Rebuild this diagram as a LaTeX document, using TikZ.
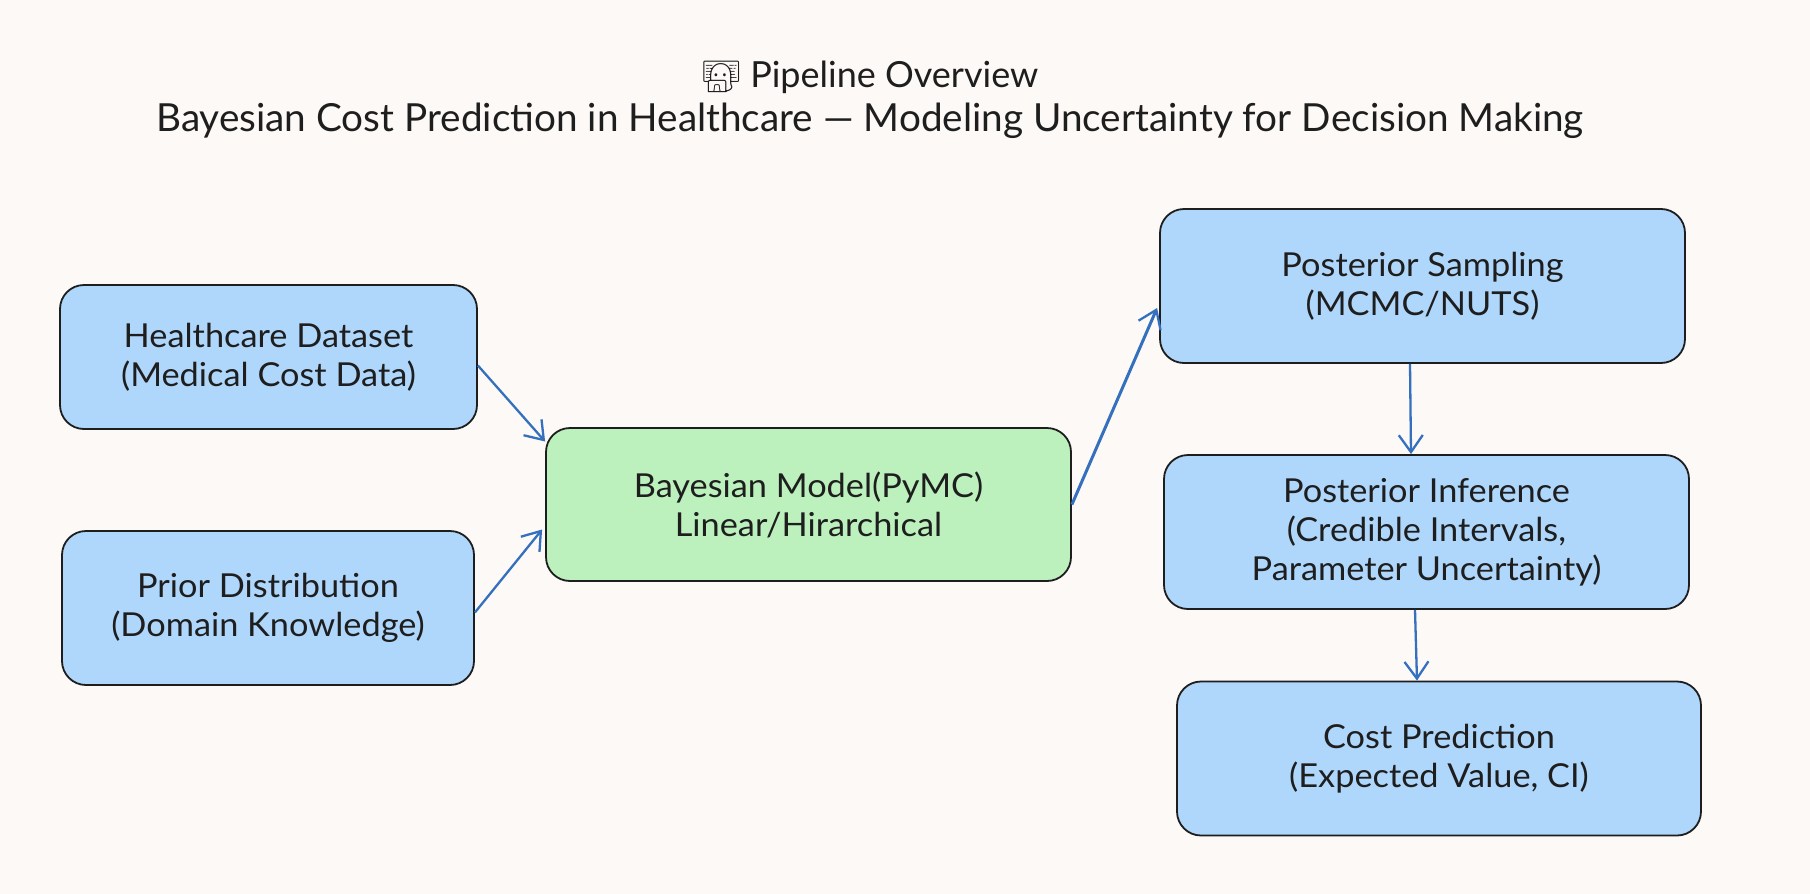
\documentclass[tikz,border=0pt]{standalone}
\usepackage{fontspec}
\usetikzlibrary{arrows.meta,positioning}
\setmainfont{Lato}
\newfontfamily\boxfont{Lato}[FakeStretch=1.04]
\newfontfamily\emojifont{Noto Emoji}
\definecolor{pagebg}{HTML}{FCF9F6}
\definecolor{boxblue}{HTML}{AFD6FB}
\definecolor{boxgreen}{HTML}{BCF1BD}
\definecolor{inkline}{HTML}{1E1E1E}
\definecolor{arrowblue}{HTML}{3570BE}
\tikzset{
    stagebox/.style={draw=inkline, line width=1.8pt, rounded corners=24pt, fill=boxblue, text=inkline,
        align=center, font=\boxfont\fontsize{33}{39}\selectfont, inner sep=0pt},
    modelbox/.style={stagebox, fill=boxgreen},
    flowarrow/.style={arrowblue, line width=2.3pt, -{Straight Barb[length=17pt,width=24pt,line width=2.3pt]}},
}
\begin{document}
\begin{tikzpicture}[x=1pt,y=-1pt]

    \fill[pagebg] (0,0) rectangle (1810,894);
    \useasboundingbox (0,0) rectangle (1810,894);

    \node[text=inkline, align=center, font=\fontsize{38.7}{44}\selectfont] (title) at (870,99.5)
        {{\fontsize{36}{44}\selectfont{\emojifont\fontsize{31}{44}\selectfont 👩‍💻} Pipeline Overview}\\Bayesian Cost Prediction in Healthcare — Modeling Uncertainty for Decision Making};

    \node[stagebox, minimum width=417pt, minimum height=144pt] (dataset) at (268.5,357) {Healthcare Dataset\\(Medical Cost Data)};
    \node[stagebox, minimum width=412pt, minimum height=154pt] (prior) at (268,608) {Prior Distribution\\(Domain Knowledge)};
    \node[modelbox, minimum width=525pt, minimum height=153pt] (model) at (808.5,504.5) {Bayesian Model(PyMC)\\Linear/Hirarchical};
    \node[stagebox, minimum width=525pt, minimum height=154pt] (sampling) at (1422.5,286) {Posterior Sampling\\(MCMC/NUTS)};
    \node[stagebox, minimum width=525pt, minimum height=154pt] (inference) at (1426.5,532) {Posterior Inference\\(Credible Intervals,\\Parameter Uncertainty)};
    \node[stagebox, minimum width=524pt, minimum height=154pt] (cost) at (1439,758.5) {Cost Prediction\\(Expected Value, CI)};

    \draw[flowarrow] ([yshift=-8.5pt]dataset.east) -- ([yshift=63pt]model.west);
    \draw[flowarrow] ([yshift=-4.5pt]prior.east) -- ([xshift=-3pt,yshift=-25pt]model.west);
    \draw[flowarrow, line width=3pt] (model.east) -- ([xshift=-2pt,yshift=-22pt]sampling.west);
    \draw[flowarrow] ([xshift=-12.5pt]sampling.south) -- ([xshift=-15.5pt]inference.north);
    \draw[flowarrow] ([xshift=-11.5pt]inference.south) -- ([xshift=-22pt]cost.north);

\end{tikzpicture}
\end{document}
